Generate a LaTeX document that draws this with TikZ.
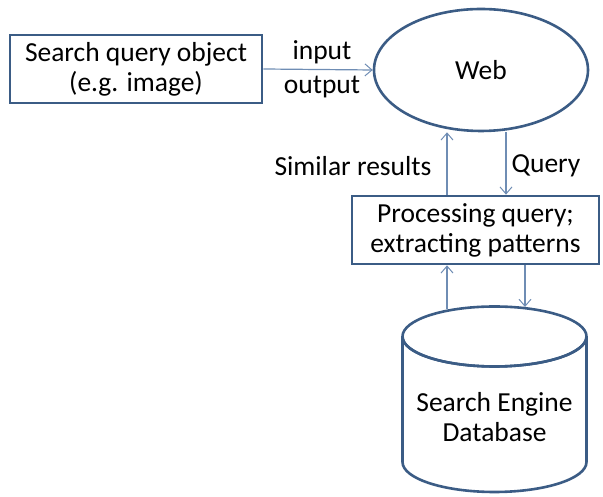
\documentclass[tikz,border=0pt]{standalone}
\usepackage{fontspec}
\setmainfont{Carlito}
\usetikzlibrary{shapes.geometric,arrows.meta}
\definecolor{edge}{HTML}{3B5C85}
\definecolor{conn}{HTML}{6F8DB4}
\tikzset{
  box/.style={draw=edge, line width=2.6pt, fill=white, align=center, inner sep=0pt},
  lbl/.style={font=\fontsize{27.5}{30}\selectfont, text=black, align=center},
  conn/.style={draw=conn, line width=1.2pt, -{Straight Barb[length=7pt,width=12pt,line width=1pt]}},
}
\begin{document}
\begin{tikzpicture}[x=1pt,y=1pt]
\useasboundingbox (0,0) rectangle (603,497);
\node[box, lbl, minimum width=252pt, minimum height=68pt] (obj) at (136,428) {Search query object\\(e.g. image)};
\node[box, lbl, ellipse, minimum width=214pt, minimum height=122pt] (web) at (481,427) {Web};
\node[box, lbl, minimum width=247pt, minimum height=68pt] (proc) at (475.5,267) {Processing query;\\extracting patterns};
\node[lbl] (in) at (322,445) {input};
\node[lbl] (out) at (322,410) {output};
\node[lbl] (sim) at (353,331) {Similar results};
\node[lbl] (qry) at (546,331) {Query};
% database cylinder
\draw[edge, line width=2.6pt, fill=white] (402.5,160.5) arc[start angle=180, end angle=360, x radius=92, y radius=30] -- (586.5,35) arc[start angle=0, end angle=-180, x radius=92, y radius=30] -- cycle;
\draw[edge, line width=2.6pt] (494.5,160.5) ellipse[x radius=92, y radius=30];
\node[lbl] (db) at (494.5,80) {Search Engine\\Database};
\coordinate (dbA) at (447,188);
\coordinate (dbB) at (525,190);
% connectors
\draw[conn] (obj.east) -- (web.west);
\draw[conn] (proc.north -| 447,0) -- (web.south -| 447,0) ;
\draw[conn] (web.south -| 506,0) -- (proc.north -| 506,0);
\draw[conn] (dbA) -- (proc.south -| dbA);
\draw[conn] (proc.south -| dbB) -- (dbB);
\end{tikzpicture}
\end{document}
